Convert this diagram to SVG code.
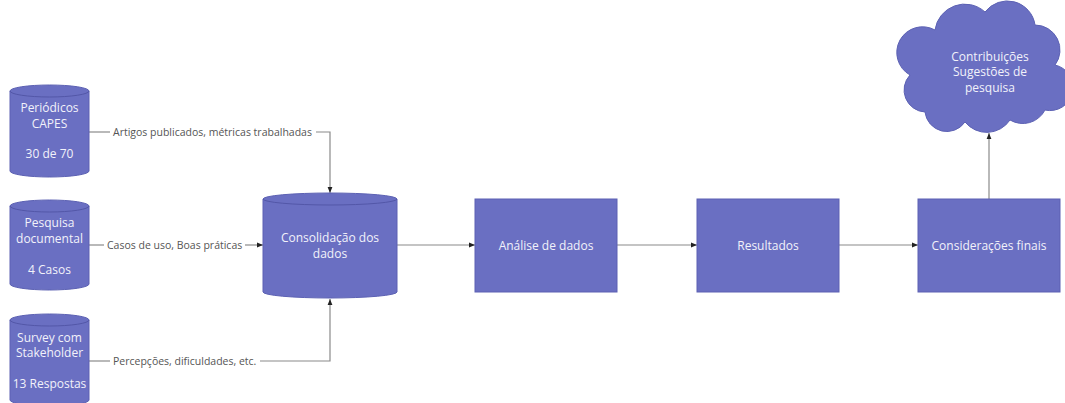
<svg xmlns="http://www.w3.org/2000/svg" width="1065" height="403" viewBox="0 0 1065 403">
<style>
.shape{fill:#6a6fc2;stroke:#5c61b3;stroke-width:1}
.rim{fill:none;stroke:#5357a8;stroke-width:1}
.nt{font-family:"Open Sans","Liberation Sans",sans-serif;font-size:12px;fill:#f2f2fa;text-anchor:middle}
.lt{font-family:"Open Sans","Liberation Sans",sans-serif;font-size:10.5px;fill:#555555}
.ln{fill:none;stroke:#8a8a8a;stroke-width:1.2}
</style>
<defs>
<marker id="ah" viewBox="0 0 10 10" refX="10" refY="5" markerWidth="6" markerHeight="6" orient="auto" markerUnits="userSpaceOnUse">
<path d="M0,1 L10,5 L0,9 Z" fill="#222"/>
</marker>
</defs>
<rect width="1065" height="403" fill="#ffffff"/>

<g id="connectors">
<polyline class="ln" points="89,132 110,132"/>
<polyline class="ln" points="316,132 330,132 330,193" marker-end="url(#ah)"/>
<polyline class="ln" points="89,245 104,245"/>
<polyline class="ln" points="245,245 263,245" marker-end="url(#ah)"/>
<polyline class="ln" points="89,361 110,361"/>
<polyline class="ln" points="260,361 330,361 330,299" marker-end="url(#ah)"/>
<polyline class="ln" points="397,245 475,245" marker-end="url(#ah)"/>
<polyline class="ln" points="617,245 697,245" marker-end="url(#ah)"/>
<polyline class="ln" points="839,245 918,245" marker-end="url(#ah)"/>
<polyline class="ln" points="989,199 989,133" marker-end="url(#ah)"/>
<text class="lt" x="113" y="135.5">Artigos publicados, métricas trabalhadas</text>
<text class="lt" x="107" y="248.5">Casos de uso, Boas práticas</text>
<text class="lt" x="113" y="364.5">Percepções, dificuldades, etc.</text>
</g>

<g id="periodicos">
<path class="shape" d="M10,91 A39.5,6 0 0 1 89,91 V171 A39.5,6 0 0 1 10,171 Z"/>
<path class="rim" d="M10,91 A39.5,6 0 0 0 89,91"/>
<text class="nt" x="49.5" y="112">Periódicos</text>
<text class="nt" x="49.5" y="128">CAPES</text>
<text class="nt" x="49.5" y="158">30 de 70</text>
</g>

<g id="pesquisa">
<path class="shape" d="M10,206 A39.5,6 0 0 1 89,206 V284 A39.5,6 0 0 1 10,284 Z"/>
<path class="rim" d="M10,206 A39.5,6 0 0 0 89,206"/>
<text class="nt" x="49.5" y="227">Pesquisa</text>
<text class="nt" x="49.5" y="243">documental</text>
<text class="nt" x="49.5" y="274">4 Casos</text>
</g>

<g id="survey">
<path class="shape" d="M10,320 A39.5,6 0 0 1 89,320 V400 A39.5,6 0 0 1 10,400 Z"/>
<path class="rim" d="M10,320 A39.5,6 0 0 0 89,320"/>
<text class="nt" x="49.5" y="342">Survey com</text>
<text class="nt" x="49.5" y="357">Stakeholder</text>
<text class="nt" x="49.5" y="388">13 Respostas</text>
</g>

<g id="consolidacao">
<path class="shape" d="M263,199 A67,6 0 0 1 397,199 V292 A67,6 0 0 1 263,292 Z"/>
<path class="rim" d="M263,199 A67,6 0 0 0 397,199"/>
<text class="nt" x="330" y="242">Consolidação dos</text>
<text class="nt" x="330" y="258">dados</text>
</g>

<g id="analise">
<rect class="shape" x="475" y="199" width="142" height="93"/>
<text class="nt" x="546" y="250">Análise de dados</text>
</g>

<g id="resultados">
<rect class="shape" x="697" y="199" width="142" height="93"/>
<text class="nt" x="768" y="250">Resultados</text>
</g>

<g id="consideracoes">
<rect class="shape" x="918" y="199" width="142" height="93"/>
<text class="nt" x="989" y="250">Considerações finais</text>
</g>

<g id="contribuicoes">
<path class="shape" d="M925,112 A22,22 0 0 1 910,75 A25,25 0 0 1 935,30 A30,30 0 0 1 985,12 A28,28 0 0 1 1035,25 A25,25 0 0 1 1055,65 A22,22 0 0 1 1045,110 A25,25 0 0 1 1010,120 A28,28 0 0 1 965,122 A22,22 0 0 1 925,112 Z"/>
<text class="nt" x="990" y="61">Contribuições</text>
<text class="nt" x="990" y="76">Sugestões de</text>
<text class="nt" x="990" y="92">pesquisa</text>
</g>
</svg>
